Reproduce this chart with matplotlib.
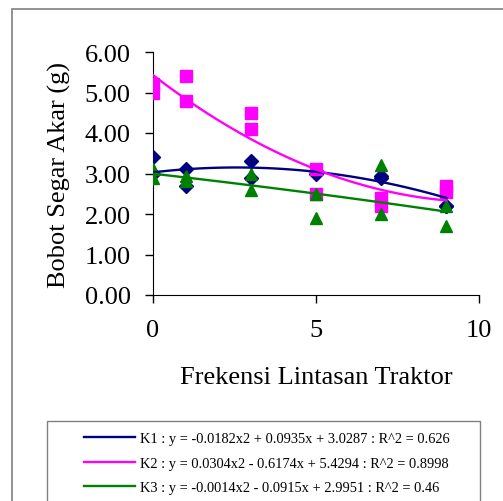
import numpy as np
import matplotlib
matplotlib.use('Agg')
import matplotlib.pyplot as plt
from matplotlib.patches import Rectangle
from matplotlib.ticker import FormatStrFormatter

plt.rcParams['font.family'] = ['Liberation Serif', 'DejaVu Serif']

# data
x_k1 = [0, 0, 1, 1, 3, 3, 5, 5, 7, 7, 9, 9]
y_k1 = [3.4, 3.0, 3.1, 2.7, 3.3, 2.9, 3.0, 3.05, 2.9, 2.95, 2.2, 2.2]
x_k2 = [0, 0, 1, 1, 3, 3, 5, 5, 7, 7, 9, 9]
y_k2 = [5.2, 5.0, 5.4, 4.8, 4.5, 4.1, 3.1, 2.5, 2.4, 2.2, 2.7, 2.55]
x_k3 = [0, 0, 1, 1, 3, 3, 5, 5, 7, 7, 9, 9]
y_k3 = [3.1, 2.9, 2.95, 2.82, 3.0, 2.6, 2.5, 1.9, 3.2, 2.0, 2.2, 1.7]

# trend line coefficients (x2, x, const) as printed in the legend
c_k1 = [-0.0182, 0.0935, 3.0287]
c_k2 = [0.0304, -0.6174, 5.4294]
c_k3 = [-0.0014, -0.0915, 2.9951]
labels = ['K1 : y = -0.0182x2 + 0.0935x + 3.0287 : R^2 = 0.626',
          'K2 : y = 0.0304x2 - 0.6174x + 5.4294 : R^2 = 0.8998',
          'K3 : y = -0.0014x2 - 0.0915x + 2.9951 : R^2 = 0.46']

fh = plt.figure(figsize=(5.03, 5.02), dpi=100)
W, H = 503.0, 502.0

# outer chart border
fh.patches.append(Rectangle((12 / W, -0.1), 1.1, 1 - 10 / H + 0.1, transform=fh.transFigure,
                            fill=False, edgecolor='#808080', lw=1.2))

axh = fh.add_axes([153 / W, 1 - 296 / H, (479 - 153) / W, (296 - 53) / H])
xt = np.linspace(0, 9, 100)
axh.plot(x_k1, y_k1, 'D', color='#000080', ms=7, mec='#000080', zorder=3)
axh.plot(x_k2, y_k2, 's', color='#ff00ff', ms=8.5, mec='#ff00ff', zorder=3)
axh.plot(x_k3, y_k3, '^', color='#008000', ms=8, mec='#008000', zorder=3)
l1, = axh.plot(xt, np.polyval(c_k1, xt), '-', color='#000080', lw=1.7, zorder=4)
l2, = axh.plot(xt, np.polyval(c_k2, xt), '-', color='#ff00ff', lw=1.7, zorder=4)
l3, = axh.plot(xt, np.polyval(c_k3, xt), '-', color='#008000', lw=1.7, zorder=4)

axh.set_xlim(0, 10)
axh.set_ylim(0, 6)
axh.set_xticks([0, 5, 10])
axh.set_yticks(np.arange(0, 7, 1))
axh.yaxis.set_major_formatter(FormatStrFormatter('%.2f'))
axh.spines['top'].set_visible(False)
axh.spines['right'].set_visible(False)
axh.tick_params(direction='out', length=5.5, width=1, labelsize=19)
axh.tick_params(axis='y', pad=10.5)
axh.tick_params(axis='x', pad=12)
axh.set_ylabel('Bobot Segar Akar (g)', fontsize=19, labelpad=10)
axh.set_xlabel('Frekensi Lintasan Traktor', fontsize=19, labelpad=17.5)
axh.patch.set_alpha(0)
for ln in (axh.xaxis.get_ticklines() + axh.yaxis.get_ticklines()):
    ln.set_clip_on(False)

# legend box running off the bottom
fh.patches.append(Rectangle((47 / W, -0.1), (480 - 47) / W, 0.1 + 1 - 422 / H,
                            transform=fh.transFigure, fill=False, edgecolor='#808080', lw=1.0))
fh.legend([l1, l2, l3], labels, loc='upper left', bbox_to_anchor=(71 / W, 1 - 420 / H),
          frameon=False, fontsize=10.4, handlelength=3.5, handletextpad=0.35, labelspacing=0.8)

fh.savefig('out.png', dpi=100)
